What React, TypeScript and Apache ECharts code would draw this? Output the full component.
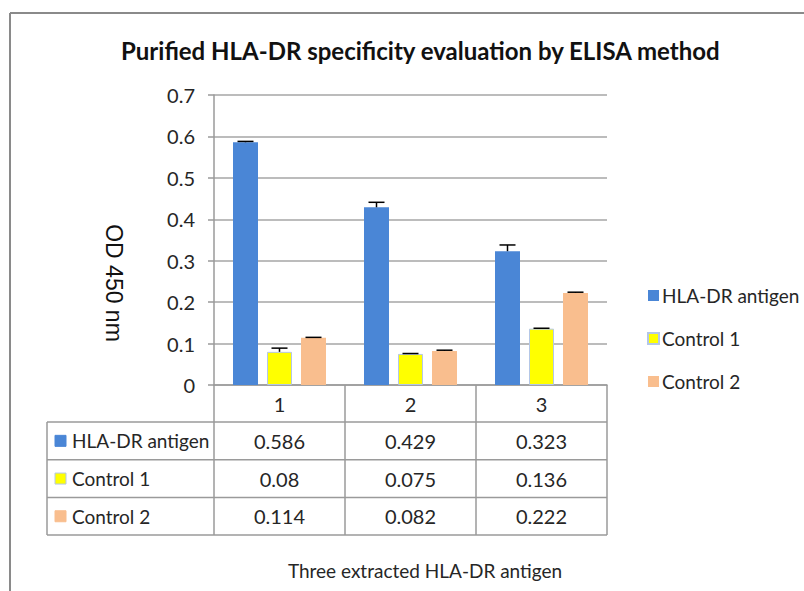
import React, { useEffect, useRef } from "react";
import * as echarts from "echarts";

const categories = ["1", "2", "3"];
const seriesNames = ["HLA-DR antigen", "Control 1", "Control 2"];
const hlaValues = [0.586, 0.429, 0.323];
const control1Values = [0.08, 0.075, 0.136];
const control2Values = [0.114, 0.082, 0.222];
const hlaErrors = [0.002, 0.012, 0.015];
const control1Errors = [0.009, 0.001, 0.001];
const control2Errors = [0.001, 0.002, 0.002];
const yTicks = [0, 0.1, 0.2, 0.3, 0.4, 0.5, 0.6, 0.7];

const colors = ["#4A86D6", "#FFFF00", "#F9BE8E"];
const FONT = "Lato, 'Open Sans', sans-serif";
const TEXT = "#262626";

export default function App() {
  const ref = useRef<HTMLDivElement>(null);
  useEffect(() => {
    if (!ref.current) return;
    const chart = echarts.init(ref.current, undefined, { renderer: "svg" });
    const values = [hlaValues, control1Values, control2Values];
    const errors = [hlaErrors, control1Errors, control2Errors];

    const gridLeft = 214;
    const gridRight = 607;
    const gridTop = 95;
    const gridBottom = 385;
    const W = 804;
    const H = 591;
    const barWidth = 25;
    const barStep = 34;
    const tableTop = 422;
    const rowH = 37.7;
    const tableLeft = 47;
    const colW = (gridRight - gridLeft) / categories.length;

    const errData: any[] = [];
    errors.forEach((arr, s) =>
      arr.forEach((e, i) => errData.push([i, values[s][i], e, s]))
    );

    const graphics: any[] = [];
    const lineStyle = { stroke: "#9a9a9a", lineWidth: 1.5 };
    // frame
    graphics.push({ type: "line", shape: { x1: 10, y1: 13, x2: W, y2: 13 }, style: { stroke: "#8a8a8a", lineWidth: 2 } });
    graphics.push({ type: "line", shape: { x1: 10, y1: 13, x2: 10, y2: H }, style: { stroke: "#8a8a8a", lineWidth: 2 } });
    // table horizontal lines
    for (let r = 0; r <= seriesNames.length; r++) {
      const y = tableTop + r * rowH;
      graphics.push({ type: "line", shape: { x1: tableLeft, y1: y, x2: gridRight, y2: y }, style: lineStyle });
    }
    const tableBottom = tableTop + seriesNames.length * rowH;
    // table vertical lines
    graphics.push({ type: "line", shape: { x1: tableLeft, y1: tableTop, x2: tableLeft, y2: tableBottom }, style: lineStyle });
    for (let c = 0; c <= categories.length; c++) {
      const x = gridLeft + c * colW;
      graphics.push({ type: "line", shape: { x1: x, y1: tableTop, x2: x, y2: tableBottom }, style: lineStyle });
    }
    // table contents
    seriesNames.forEach((name, r) => {
      const cy = tableTop + r * rowH + rowH / 2;
      graphics.push({
        type: "rect",
        shape: { x: 55, y: cy - 5.5, width: 11, height: 11 },
        style: { fill: colors[r], stroke: r === 1 ? "#b4c7e7" : colors[r], lineWidth: 1 },
      });
      graphics.push({
        type: "text",
        x: 72,
        y: cy,
        style: { text: name, font: `19px ${FONT}`, fill: TEXT, verticalAlign: "middle", textAlign: "left" },
      });
      values[r].forEach((v, c) => {
        graphics.push({
          type: "text",
          x: gridLeft + c * colW + colW / 2,
          y: cy,
          style: { text: String(v), font: `20px ${FONT}`, fill: TEXT, verticalAlign: "middle", textAlign: "center" },
        });
      });
    });
    // y axis title
    graphics.push({
      type: "text",
      x: 114,
      y: 283,
      rotation: -Math.PI / 2,
      style: { text: "OD 450 nm", font: "23px 'Liberation Sans', Arial, sans-serif", fill: "#111", textAlign: "center", verticalAlign: "middle" },
    });
    // x axis title
    graphics.push({
      type: "text",
      x: 425,
      y: 570,
      style: { text: "Three extracted HLA-DR antigen", font: `19px ${FONT}`, fill: TEXT, textAlign: "center", verticalAlign: "middle" },
    });

    const option: any = {
      animation: false,
      backgroundColor: "#ffffff",
      title: {
        text: "Purified HLA-DR specificity evaluation by ELISA method",
        left: 116,
        top: 33,
        textStyle: { fontFamily: FONT, fontWeight: "bold", fontSize: 24, color: "#111" },
      },
      legend: {
        orient: "vertical",
        left: 642,
        top: 281,
        itemWidth: 11,
        itemHeight: 11,
        itemGap: 24,
        icon: "rect",
        data: seriesNames,
        textStyle: { fontFamily: FONT, fontSize: 19, color: TEXT, lineHeight: 19, padding: [0, 0, 0, -2] },
      },
      grid: { left: gridLeft, right: W - gridRight, top: gridTop, bottom: H - gridBottom, containLabel: false },
      xAxis: {
        type: "category",
        data: categories,
        axisLine: { show: true, lineStyle: { color: "#9a9a9a", width: 1.5 } },
        axisTick: { show: true, length: 37, lineStyle: { color: "#9a9a9a", width: 1.5 } },
        axisLabel: { fontFamily: FONT, fontSize: 20, color: TEXT, margin: 9 },
      },
      yAxis: {
        type: "value",
        min: yTicks[0],
        max: yTicks[yTicks.length - 1],
        interval: 0.1,
        axisLine: { show: true, lineStyle: { color: "#9a9a9a", width: 1.5 } },
        axisTick: { show: true, length: 6, lineStyle: { color: "#9a9a9a", width: 1.5 } },
        axisLabel: { fontFamily: FONT, fontSize: 20, color: TEXT, margin: 19, formatter: (v: number) => String(Math.round(v * 10) / 10) },
        splitLine: { show: true, lineStyle: { color: "#a6a6a6", width: 1.5 } },
      },
      series: [
        ...seriesNames.map((name, s) => ({
          name,
          type: "bar",
          data: values[s],
          barWidth,
          barGap: "36%",
          itemStyle: { color: colors[s], borderColor: s === 1 ? "#b4c7e7" : colors[s], borderWidth: s === 1 ? 1 : 0 },
        })),
        {
          type: "custom",
          name: "errors",
          data: errData,
          encode: { x: 0, y: 1 },
          z: 5,
          renderItem: (params: any, api: any) => {
            const cat = api.value(0);
            const v = api.value(1);
            const e = api.value(2);
            const s = api.value(3);
            const base = api.coord([cat, v]);
            const top = api.coord([cat, v + e]);
            const x = base[0] + (s - 1) * barStep;
            const half = 8;
            return {
              type: "group",
              children: [
                { type: "line", shape: { x1: x, y1: base[1], x2: x, y2: top[1] }, style: { stroke: "#000", lineWidth: 1.5 } },
                { type: "line", shape: { x1: x - half, y1: top[1], x2: x + half, y2: top[1] }, style: { stroke: "#000", lineWidth: 1.5 } },
              ],
            };
          },
        },
      ],
      graphic: graphics,
    };
    chart.setOption(option);
    return () => chart.dispose();
  }, []);
  return <div ref={ref} style={{ position: "fixed", left: 0, top: 0, width: 804, height: 591 }} />;
}
